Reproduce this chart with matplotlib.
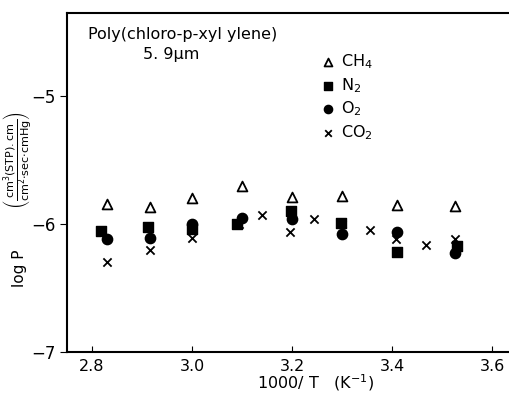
import matplotlib
matplotlib.use('Agg')
import matplotlib.pyplot as plt

# Data (x = 1000/T, y = log P)
x_main = [2.83, 2.915, 3.0, 3.10, 3.20, 3.30, 3.41, 3.525]
ch4 = [-5.84, -5.87, -5.80, -5.70, -5.79, -5.78, -5.85, -5.86]
x_n2 = [2.817, 2.912, 3.0, 3.09, 3.198, 3.298, 3.41, 3.53]
n2 = [-6.055, -6.02, -6.04, -6.0, -5.90, -5.99, -6.215, -6.17]
o2 = [-6.12, -6.11, -6.0, -5.95, -5.96, -6.08, -6.06, -6.23]
x_co2 = [2.83, 2.915, 3.0, 3.093, 3.14, 3.196, 3.243, 3.30, 3.355, 3.408, 3.467, 3.526]
co2 = [-6.30, -6.20, -6.11, -6.0, -5.93, -6.06, -5.96, -6.0, -6.05, -6.12, -6.16, -6.12]

X_TICKS = [2.8, 3.0, 3.2, 3.4, 3.6]
Y_TICKS = [-7, -6, -5]


def main():
    fig = plt.figure(figsize=(5.1, 3.96), dpi=100)
    ax = fig.add_axes([67 / 510, 1 - 352 / 396, 455 / 510, 339 / 396])

    ax.scatter(x_main, ch4, marker='^', s=50, facecolors='white',
               edgecolors='black', linewidths=1.3, label='CH$_4$', zorder=3)
    ax.scatter(x_n2, n2, marker='s', s=45, color='black', label='N$_2$', zorder=3)
    ax.scatter(x_main, o2, marker='o', s=55, color='black', label='O$_2$', zorder=3)
    ax.scatter(x_co2, co2, marker='x', s=35, color='black', linewidths=1.3,
               label='CO$_2$', zorder=4)

    ax.set_xlim(2.75, 3.66)
    ax.set_ylim(-7, -4.35)
    ax.set_xticks(X_TICKS)
    ax.set_xticklabels(['2.8', '3.0', '3.2', '3.4', '3.6'])
    ax.set_yticks(Y_TICKS)
    ax.set_yticklabels(['\u22127', '\u22126', '\u22125'])
    ax.tick_params(axis='x', direction='in', length=4, labelsize=11.5, pad=5)
    ax.tick_params(axis='y', direction='out', length=5, labelsize=12)
    ax.spines['right'].set_visible(False)
    for side in ['left', 'bottom', 'top']:
        ax.spines[side].set_linewidth(1.5)

    fig.text(315 / 510, 1 - 383 / 396, '1000/ T   (K$^{-1}$)', fontsize=11.5,
             ha='center', va='center')

    # y label in two parts: "log P" and the units fraction
    fig.text(20 / 510, 1 - 268 / 396, 'log P', fontsize=11,
             rotation=90, ha='center', va='center')
    fig.text(18 / 510, 1 - 160 / 396,
             r'$\left(\dfrac{\mathrm{cm^3(STP).cm}}'
             r'{\mathrm{cm^2{\cdot}sec{\cdot}cmHg}}\right)$',
             fontsize=8, rotation=90, ha='center', va='center')

    fig.text(88 / 510, 1 - 35 / 396, 'Poly(chloro-p-xyl ylene)', fontsize=11.5,
             va='center')
    fig.text(143 / 510, 1 - 55 / 396, '5. 9\u03bcm', fontsize=11.5,
             va='center')

    ax.legend(loc='upper left', bbox_to_anchor=(312 / 510, 1 - 46 / 396),
              bbox_transform=fig.transFigure, frameon=False, fontsize=11.5,
              handletextpad=0.2, labelspacing=0.3, borderaxespad=0,
              handlelength=1.2, markerscale=0.8)

    fig.savefig('out.png', dpi=100)


if __name__ == '__main__':
    main()
